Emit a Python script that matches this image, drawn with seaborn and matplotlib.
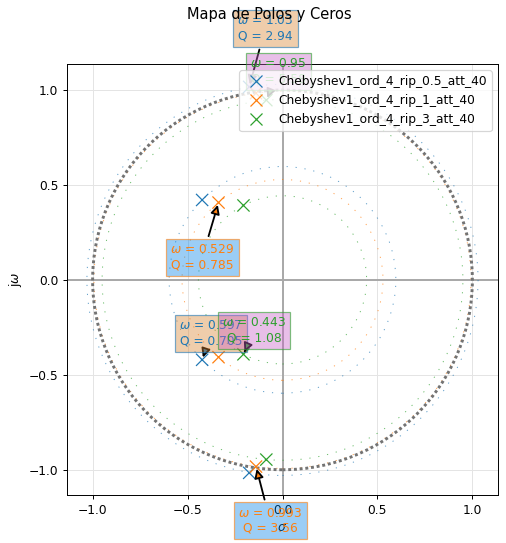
import numpy as np
import pandas as pd
import matplotlib
matplotlib.use("Agg")
import matplotlib.pyplot as plt
from matplotlib.colors import to_rgba
import seaborn as sns

sns.set_style("ticks", {"axes.grid": True, "grid.color": "#e4e4e4",
                        "axes.edgecolor": "black", "xtick.color": "black",
                        "ytick.color": "black", "text.color": "black",
                        "axes.labelcolor": "black"})
plt.rcParams['font.family'] = ['DejaVu Sans']

# datos: polos de cada filtro (parte real / imaginaria)
filtros = ['Chebyshev1_ord_4_rip_0.5_att_40',
           'Chebyshev1_ord_4_rip_1_att_40',
           'Chebyshev1_ord_4_rip_3_att_40']
polos_re_05 = [-0.1754, -0.1754, -0.4233, -0.4233]
polos_im_05 = [1.0163, -1.0163, 0.4209, -0.4209]
polos_re_1 = [-0.1395, -0.1395, -0.3369, -0.3369]
polos_im_1 = [0.9834, -0.9834, 0.4073, -0.4073]
polos_re_3 = [-0.0852, -0.0852, -0.2056, -0.2056]
polos_im_3 = [0.9465, -0.9465, 0.3920, -0.3920]
omega_polos = [[1.03, 1.03, 0.597, 0.597],
               [0.993, 0.993, 0.529, 0.529],
               [0.95, 0.95, 0.443, 0.443]]
q_polos = [[2.94, 2.94, 0.705, 0.705],
           [3.56, 3.56, 0.785, 0.785],
           [5.58, 5.58, 1.08, 1.08]]

colores = sns.color_palette("tab10", 3)
cajas = ['#d9822f', '#0583e6', '#c75fc7']

# (filtro, indice de polo, desplazamiento del texto en puntos)
anotaciones = [(0, 0, (13.1, 47.9)), (0, 3, (7.3, 21.7)),
               (1, 1, (11.5, -44.3)), (1, 2, (-13.3, -44.8)),
               (2, 0, (9.8, 23.5)), (2, 3, (8.6, 19.6))]

re_all = [polos_re_05, polos_re_1, polos_re_3]
im_all = [polos_im_05, polos_im_1, polos_im_3]
df = pd.DataFrame({
    're': sum(re_all, []),
    'im': sum(im_all, []),
    'filtro': sum([[f] * len(r) for f, r in zip(filtros, re_all)], []),
})

fig = plt.figure(figsize=(506 / 88, 543 / 88), dpi=88)
ax = fig.add_axes([67 / 506, 48 / 543, 431 / 506, 431 / 543])

ax.axhline(0, color='0.66', lw=1.6, zorder=1)
ax.axvline(0, color='0.66', lw=1.6, zorder=1)

# circulos de radio omega
for i, w_list in enumerate(omega_polos):
    for w in sorted(set(w_list)):
        ax.add_patch(plt.Circle((0, 0), w, fill=False, ec=colores[i], lw=0.8,
                                ls=(0, (1.2, 8)), alpha=0.7, zorder=1.5))
ax.add_patch(plt.Circle((0, 0), 1, fill=False, ec='0.45', lw=2.4,
                        ls=(0, (1, 0.95)), zorder=1.6))

sns.scatterplot(data=df, x='re', y='im', hue='filtro', palette=colores,
                marker='x', s=100, linewidth=1, ax=ax, zorder=2)

for i, j, off in anotaciones:
    x = re_all[i][j]
    y = im_all[i][j]
    txt = '$\\omega$ = {:.3g}\nQ = {:.3g}'.format(omega_polos[i][j], q_polos[i][j])
    caja = dict(boxstyle='square,pad=0.35', facecolor=to_rgba(cajas[i], 0.4),
                edgecolor=to_rgba(colores[i], 0.6), linewidth=1)
    ax.annotate(txt, xy=(x, y), xytext=off, textcoords='offset points',
                ha='center', va='center', color=colores[i], fontsize=10,
                bbox=caja,
                arrowprops=dict(arrowstyle='-|>', fc=colores[i], ec='black',
                                lw=1.5, mutation_scale=15))

ax.set_xlim(-1.135, 1.135)
ax.set_ylim(-1.133, 1.137)
ax.set_aspect('equal', adjustable='box')
ax.set_xticks([-1.0, -0.5, 0.0, 0.5, 1.0])
ax.set_yticks([-1.0, -0.5, 0.0, 0.5, 1.0])
ax.set_xlabel('$\\sigma$')
ax.set_ylabel('j$\\omega$')
ax.legend(loc='upper right', title=None)
fig.suptitle('Mapa de Polos y Ceros', fontsize=12, x=0.5326, y=0.987)

fig.savefig('out.png', dpi=88)
